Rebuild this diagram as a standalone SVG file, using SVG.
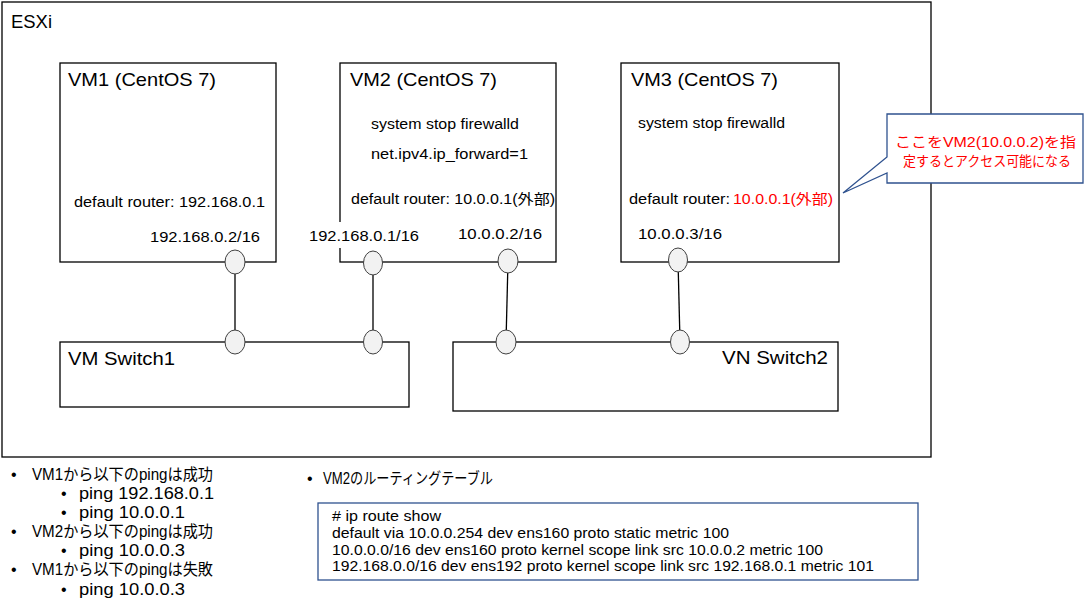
<svg xmlns="http://www.w3.org/2000/svg" width="1087" height="609" viewBox="0 0 1087 609">
<style>
text{font-family:"Liberation Sans","Noto Sans CJK JP",sans-serif;fill:#000}
.box{fill:#fff;stroke:#000;stroke-width:1.3}
.port{fill:#f2f2f2;stroke:#404040;stroke-width:1}
.t{font-size:19px}
.b{font-size:14px}
.s{font-size:18px}
.l{font-size:16px}
.r{font-size:14px}
.red{fill:#ff0000}
.blue{fill:#fff;stroke:#2f528f;stroke-width:1.3}
.wire{stroke:#000;stroke-width:1.3;fill:none}
</style>
<rect width="1087" height="609" fill="#fff"/>
<g id="esxi">
<rect class="box" x="2" y="2" width="929" height="455"/>
<text x="11" y="28" style="font-size:18px" textLength="41" lengthAdjust="spacingAndGlyphs">ESXi</text>
</g>
<g id="vm1">
<rect class="box" x="60" y="63" width="216" height="199"/>
<text class="t" x="68" y="86" textLength="148" lengthAdjust="spacingAndGlyphs">VM1 (CentOS 7)</text>
<text class="b" x="74" y="207" textLength="191" lengthAdjust="spacingAndGlyphs">default router: 192.168.0.1</text>
<text class="b" x="150" y="242" textLength="110" lengthAdjust="spacingAndGlyphs">192.168.0.2/16</text>
</g>
<g id="vm2">
<rect class="box" x="340" y="63" width="216" height="199"/>
<text class="t" x="350" y="86" textLength="147" lengthAdjust="spacingAndGlyphs">VM2 (CentOS 7)</text>
<text class="b" x="371" y="129" textLength="148" lengthAdjust="spacingAndGlyphs">system stop firewalld</text>
<text class="b" x="371" y="159" textLength="157" lengthAdjust="spacingAndGlyphs">net.ipv4.ip_forward=1</text>
<text class="b" x="351" y="204" textLength="204" lengthAdjust="spacingAndGlyphs">default router: 10.0.0.1(外部)</text>
<text class="b" x="458" y="239" textLength="84" lengthAdjust="spacingAndGlyphs">10.0.0.2/16</text>
</g>
<g id="vm2-port-label">
<rect x="305" y="222" width="118" height="26" fill="#fff"/>
<text class="b" x="309" y="241" textLength="110" lengthAdjust="spacingAndGlyphs">192.168.0.1/16</text>
</g>
<g id="vm3">
<rect class="box" x="621" y="63" width="218" height="199"/>
<text class="t" x="631" y="86" textLength="147" lengthAdjust="spacingAndGlyphs">VM3 (CentOS 7)</text>
<text class="b" x="638" y="128" textLength="147" lengthAdjust="spacingAndGlyphs">system stop firewalld</text>
<text class="b" x="629" y="204" textLength="101" lengthAdjust="spacingAndGlyphs">default router:</text>
<text class="b red" x="733" y="204" textLength="100" lengthAdjust="spacingAndGlyphs">10.0.0.1(外部)</text>
<text class="b" x="638" y="239" textLength="84" lengthAdjust="spacingAndGlyphs">10.0.0.3/16</text>
</g>
<g id="switch1">
<rect class="box" x="60" y="342" width="349" height="65"/>
<text class="s" x="68" y="365" textLength="107" lengthAdjust="spacingAndGlyphs">VM Switch1</text>
</g>
<g id="switch2">
<rect class="box" x="453" y="342" width="385" height="69"/>
<text class="s" x="722" y="364" textLength="106" lengthAdjust="spacingAndGlyphs">VN Switch2</text>
</g>
<g id="connectors">
<line class="wire" x1="235" y1="262" x2="235" y2="342"/>
<line class="wire" x1="373" y1="263" x2="373" y2="342"/>
<line class="wire" x1="508" y1="261" x2="506" y2="342"/>
<line class="wire" x1="678" y1="260" x2="680" y2="342"/>
</g>
<g id="ports">
<ellipse class="port" cx="235" cy="262" rx="10" ry="12"/>
<ellipse class="port" cx="235" cy="342" rx="10" ry="12"/>
<ellipse class="port" cx="373" cy="263" rx="9.5" ry="12"/>
<ellipse class="port" cx="373" cy="342" rx="9.5" ry="12"/>
<ellipse class="port" cx="508" cy="261" rx="10" ry="12"/>
<ellipse class="port" cx="506" cy="342" rx="10" ry="12"/>
<ellipse class="port" cx="678" cy="260" rx="9.5" ry="12"/>
<ellipse class="port" cx="680" cy="342" rx="9.5" ry="12"/>
</g>
<g id="callout">
<path class="blue" d="M887,114 H1083 V183 H887 V173 L843,193 L887,157 Z"/>
<text class="b red" x="895" y="147" textLength="181" lengthAdjust="spacingAndGlyphs">ここをVM2(10.0.0.2)を指</text>
<text class="b red" x="903" y="166" textLength="168" lengthAdjust="spacingAndGlyphs">定するとアクセス可能になる</text>
</g>
<g id="notes">
<text class="l" x="11" y="480">•</text>
<text class="l" x="32" y="480" textLength="181" lengthAdjust="spacingAndGlyphs">VM1から以下のpingは成功</text>
<text class="l" x="61" y="499">•</text>
<text class="l" x="79" y="499" textLength="135" lengthAdjust="spacingAndGlyphs">ping 192.168.0.1</text>
<text class="l" x="61" y="518">•</text>
<text class="l" x="79" y="518" textLength="106" lengthAdjust="spacingAndGlyphs">ping 10.0.0.1</text>
<text class="l" x="11" y="537">•</text>
<text class="l" x="32" y="537" textLength="181" lengthAdjust="spacingAndGlyphs">VM2から以下のpingは成功</text>
<text class="l" x="61" y="556">•</text>
<text class="l" x="79" y="556" textLength="106" lengthAdjust="spacingAndGlyphs">ping 10.0.0.3</text>
<text class="l" x="11" y="575">•</text>
<text class="l" x="32" y="575" textLength="181" lengthAdjust="spacingAndGlyphs">VM1から以下のpingは失敗</text>
<text class="l" x="61" y="595">•</text>
<text class="l" x="79" y="595" textLength="106" lengthAdjust="spacingAndGlyphs">ping 10.0.0.3</text>
<text class="l" x="307" y="484">•</text>
<text class="l" x="323" y="484" textLength="170" lengthAdjust="spacingAndGlyphs">VM2のルーティングテーブル</text>
</g>
<g id="routing-table">
<rect class="blue" x="318" y="503" width="600" height="77"/>
<text class="r" x="332" y="521" textLength="109" lengthAdjust="spacingAndGlyphs"># ip route show</text>
<text class="r" x="332" y="538" textLength="397" lengthAdjust="spacingAndGlyphs">default via 10.0.0.254 dev ens160 proto static metric 100</text>
<text class="r" x="332" y="555" textLength="491" lengthAdjust="spacingAndGlyphs">10.0.0.0/16 dev ens160 proto kernel scope link src 10.0.0.2 metric 100</text>
<text class="r" x="332" y="571" textLength="542" lengthAdjust="spacingAndGlyphs">192.168.0.0/16 dev ens192 proto kernel scope link src 192.168.0.1 metric 101</text>
</g>
</svg>
